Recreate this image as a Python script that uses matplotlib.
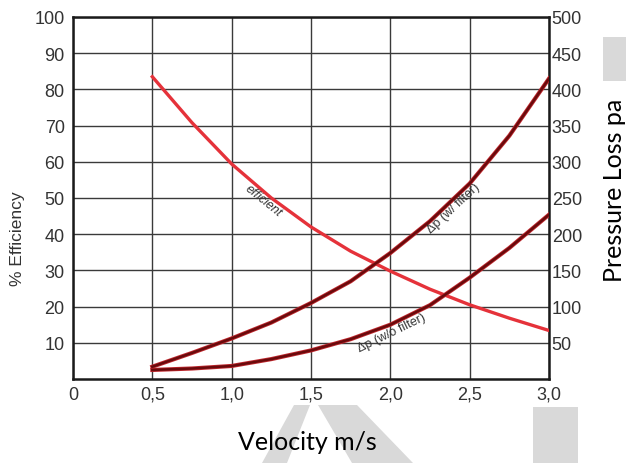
import matplotlib.pyplot as plt
from matplotlib.patches import Polygon, Rectangle

# Données
velocity = [0.5, 0.75, 1.0, 1.25, 1.5, 1.75, 2.0, 2.25, 2.5, 2.75, 3.0]
efficiency = [83.5, 70.8, 59.4, 50.0, 42.0, 35.3, 29.8, 24.8, 20.5, 16.8, 13.4]
dp_with_filter = [17, 36, 56, 78, 105, 135, 174, 218, 270, 336, 415]
dp_without_filter = [12.5, 14.5, 18, 27.5, 39.5, 55, 75, 102, 140, 181, 227]

x_ticks = [0, 0.5, 1.0, 1.5, 2.0, 2.5, 3.0]
x_tick_labels = ["0", "0,5", "1,0", "1,5", "2,0", "2,5", "3,0"]
eff_ticks = [10, 20, 30, 40, 50, 60, 70, 80, 90, 100]
dp_ticks = [50, 100, 150, 200, 250, 300, 350, 400, 450, 500]

RED = "#e5323a"
DARK = "#6a0a0c"
TICK_FONT = "Liberation Sans"
W, H = 626, 464

fig = plt.figure(figsize=(6.26, 4.64), dpi=100)


def px(x, y):
    # pixels de l'image -> coordonnées figure
    return (x / W, 1 - y / H)


# Filigrane gris (arrière-plan)
gray = "#d9d9d9"
for pts in ([(262, 464), (294, 406), (310, 406), (287, 464)],
            [(318, 406), (357, 406), (413, 464), (352, 464)]):
    fig.patches.append(Polygon([px(*p) for p in pts], closed=True, transform=fig.transFigure,
                               facecolor=gray, edgecolor="none", zorder=0))
fig.patches.append(Rectangle(px(533, 464), 45 / W, 56 / H, transform=fig.transFigure,
                             facecolor=gray, edgecolor="none", zorder=0))
fig.patches.append(Rectangle(px(603, 82), 23 / W, 44 / H, transform=fig.transFigure,
                             facecolor=gray, edgecolor="none", zorder=0))

ax = fig.add_axes([73 / W, 1 - 380 / H, (549 - 73) / W, (380 - 18) / H])
ax.set_xlim(0, 3.0)
ax.set_ylim(0, 100)
ax.set_xticks(x_ticks)
ax.set_xticklabels(x_tick_labels, fontsize=13, family=TICK_FONT, color="#333333")
ax.set_yticks(eff_ticks)
ax.set_yticklabels([str(t) for t in eff_ticks], fontsize=13, family=TICK_FONT, color="#333333")
ax.tick_params(length=0, pad=6)
ax.tick_params(axis="x", pad=5)
ax.grid(True, color="#3a3a3a", linewidth=1.0)
for s in ax.spines.values():
    s.set_linewidth(1.8)
    s.set_color("#1a1a1a")

ax.plot(velocity, efficiency, color=RED, linewidth=2.4, solid_joinstyle="round", zorder=3)

ax2 = ax.twinx()
ax2.set_ylim(0, 500)
ax2.set_yticks(dp_ticks)
ax2.set_yticklabels([str(t) for t in dp_ticks], fontsize=13, family=TICK_FONT, color="#333333")
ax2.tick_params(length=0, pad=2)
for s in ax2.spines.values():
    s.set_visible(False)

for series in (dp_with_filter, dp_without_filter):
    ax2.plot(velocity, series, color="#c0282e", linewidth=3.0, solid_joinstyle="round", zorder=3)
    ax2.plot(velocity, series, color=DARK, linewidth=1.8, solid_joinstyle="round", zorder=4)

# Étiquettes sur les courbes
ax.text(1.2, 49.5, "efficient", rotation=-39, fontsize=9, style="italic",
        family=TICK_FONT, color="#333333", ha="center", va="center")
ax2.text(2.395, 236, "Δp (w/ filter)", rotation=43, fontsize=9,
         family=TICK_FONT, color="#333333", ha="center", va="center")
ax2.text(2.01, 64, "Δp (w/o filter)", rotation=26, fontsize=9,
         family=TICK_FONT, color="#333333", ha="center", va="center")

fig.text(18 / W, 1 - 239 / H, "% Efficiency", rotation=90, fontsize=12.5, family=TICK_FONT,
         color="#333333", ha="center", va="center")
fig.text(614 / W, 1 - 190 / H, "Pressure Loss pa", rotation=90, fontsize=18, family="Lato",
         color="black", ha="center", va="center")
fig.text(307 / W, 1 - 443 / H, "Velocity m/s", fontsize=18, family="Lato",
         color="black", ha="center", va="center")

fig.savefig("out.png", dpi=100)
